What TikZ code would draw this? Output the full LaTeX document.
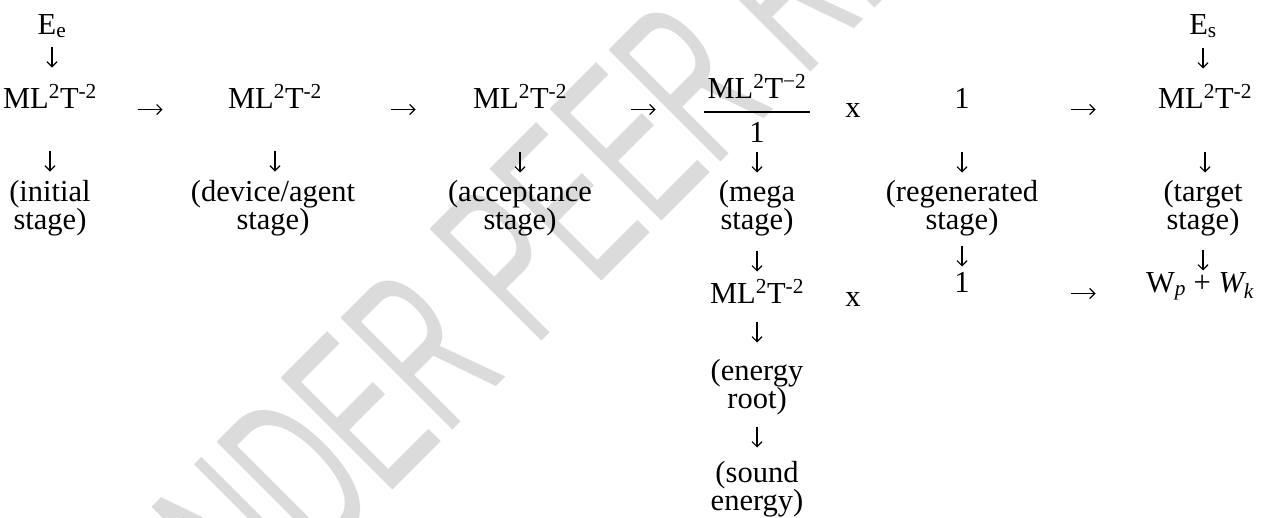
\documentclass[tikz,border=0pt]{standalone}
\usepackage{fontspec}
\setmainfont{Liberation Serif}
\newfontfamily\wmfont[FakeStretch=0.55]{Liberation Sans}
\usetikzlibrary{arrows.meta,calc}
\newcommand{\mlt}{ML\textsuperscript{2}T\textsuperscript{-2}}
\begin{document}
\begin{tikzpicture}[x=1pt,y=1pt,
  txt/.style={inner sep=0pt,font=\fontsize{30.5}{28}\selectfont},
  bnode/.style={txt,anchor=base},
  blk/.style={txt,align=center,anchor=north},
  wm/.style={inner sep=0pt,text=gray!28,font=\wmfont\fontsize{230}{230}\selectfont},
  arr/.style={line width=1.2pt,-{Straight Barb[length=5pt,width=10pt]}},
  varr/.style={arr,to path={let \p1=(\tikztostart) in (\x1,{-(#1)+10.5}) -- (\x1,{-(#1)-10.5})}},
  harr/.style={arr,to path={let \p1=(\tikztostart.base) in ({#1-12.5},{\y1-1.5pt}) -- ({#1+12.5},{\y1-1.5pt})}},
  fbar/.style={line width=1.8pt},
]
\fill[white] (0,0) rectangle (1276,-517);
\useasboundingbox (0,0) rectangle (1276,-517);
\clip (0,0) rectangle (1276,-517);
% watermark
\node[wm,rotate=45,anchor=base west] (wmk) at (192,-691) {UNDER PEER REVIEW};
% column 1
\node[bnode] (ee) at (52,-34) {E\textsubscript{e}};
\node[bnode] (m1) at (50,-108) {\mlt};
\node[blk] (t1) at (50,-180) {(initial\\stage)};
% column 2
\node[bnode] (m2) at (275,-108) {\mlt};
\node[blk] (t2) at (273,-180) {(device/agent\\stage)};
% column 3
\node[bnode] (m3) at (520,-108) {\mlt};
\node[blk] (t3) at (520,-180) {(acceptance\\stage)};
% column 4 (fraction)
\node[bnode] (f4n) at (757,-98) {ML\textsuperscript{2}T\textsuperscript{−2}};
\node[bnode] (f4d) at (757,-142) {1};
\draw[fbar] ([xshift=-3pt]f4n.west |- 0,-112) -- ([xshift=3pt]f4n.east |- 0,-112);
\node[blk] (t4) at (757,-180) {(mega\\stage)};
\node[bnode] (m4) at (757,-303) {\mlt};
\node[blk] (t4b) at (757,-359) {(energy\\root)};
\node[blk] (t4c) at (757,-461) {(sound\\energy)};
% times signs
\node[bnode] (x1) at (853,-117) {x};
\node[bnode] (x2) at (853,-306) {x};
% column 5
\node[bnode] (o5) at (962,-108) {1};
\node[blk] (t5) at (962,-180) {(regenerated\\stage)};
\node[bnode] (o5b) at (962,-292) {1};
% column 6
\node[bnode] (es) at (1203,-34) {E\textsubscript{s}};
\node[bnode] (m6) at (1205,-108) {\mlt};
\node[blk] (t6) at (1203,-180) {(target\\stage)};
\node[bnode] (w6) at (1200,-292) {W\textsubscript{\itshape p} + {\itshape W}\textsubscript{\itshape k}};
% vertical arrows
\draw[varr=57] (ee) to (m1);
\draw[varr=161] (m1) to (t1);
\draw[varr=161] (m2) to (t2);
\draw[varr=162] (m3) to (t3);
\draw[varr=162] (f4d) to (t4);
\draw[varr=261] (t4) to (m4);
\draw[varr=332] (m4) to (t4b);
\draw[varr=437] (t4b) to (t4c);
\draw[varr=162] (o5) to (t5);
\draw[varr=256] (t5) to (o5b);
\draw[varr=58] (es) to (m6);
\draw[varr=162] (m6) to (t6);
\draw[varr=260] (t6) to (w6);
% horizontal arrows
\draw[harr=150] (m1) to (m2);
\draw[harr=403] (m2) to (m3);
\draw[harr=643] (m3) to (f4n);
\draw[harr=1083] (o5) to (m6);
\draw[harr=1083] (o5b) to (w6);
\end{tikzpicture}
\end{document}
